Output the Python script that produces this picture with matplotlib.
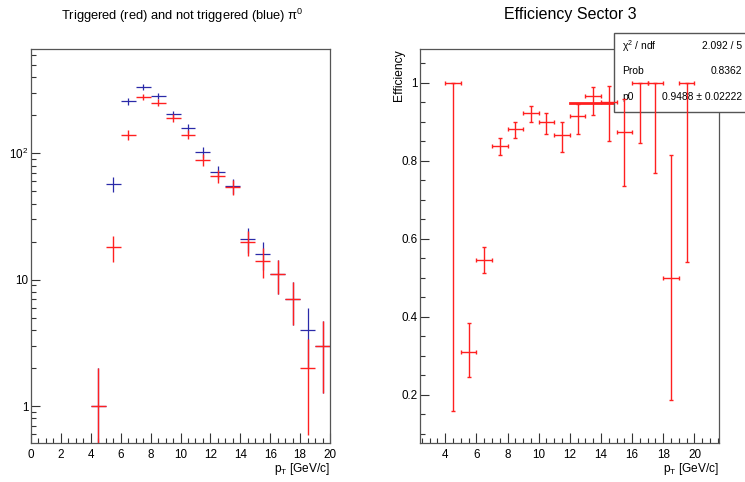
import numpy as np
import matplotlib
matplotlib.use("Agg")
import matplotlib.pyplot as plt
from matplotlib.ticker import MultipleLocator, LogLocator, NullFormatter, FixedLocator, FixedFormatter, FuncFormatter
from matplotlib.patches import Rectangle

plt.rcParams['font.family'] = ['Liberation Sans', 'DejaVu Sans']
plt.rcParams['mathtext.fontset'] = 'custom'
plt.rcParams['mathtext.rm'] = 'Liberation Sans'
plt.rcParams['mathtext.it'] = 'Liberation Sans:italic'
plt.rcParams['mathtext.default'] = 'regular'

# pi0 counts per 1 GeV/c bin (bin centres)
pt_centers = [4.5, 5.5, 6.5, 7.5, 8.5, 9.5, 10.5, 11.5, 12.5, 13.5, 14.5, 15.5, 16.5, 17.5, 18.5, 19.5]
counts_all = [1, 57, 258, 334, 286, 204, 158, 102, 71, 55, 21, 16, 11, 7, 4, 3]
counts_trig = [1, 18, 140, 280, 252, 190, 141, 89, 66, 54, 20, 14, 11, 7, 2, 3]

# efficiency per bin, with asymmetric error limits
eff = [1.0, 0.310, 0.545, 0.837, 0.880, 0.922, 0.898, 0.865, 0.915, 0.965, 0.951, 0.874, 1.0, 1.0, 0.5, 1.0]
eff_up = [1.0, 0.383, 0.579, 0.857, 0.898, 0.940, 0.922, 0.898, 0.946, 0.988, 0.991, 0.957, 1.0, 1.0, 0.813, 1.0]
eff_low = [0.158, 0.245, 0.511, 0.813, 0.857, 0.898, 0.869, 0.821, 0.869, 0.918, 0.850, 0.734, 0.844, 0.768, 0.185, 0.541]

# constant fit
fit_p0 = 0.9488
fit_range = [12, 20]
stat_rows = [("χ$^{2}$ / ndf", "2.092 / 5"), ("Prob", "0.8362"), ("p0", "0.9488 ± 0.02222")]

RED = '#ff2020'
BLUE = '#2a2aa8'
FRAME = '#555555'
W, H = 745, 482

fig = plt.figure(figsize=(W / 100, H / 100), dpi=100)
ax1 = fig.add_axes([31 / W, 1 - 443 / H, 299 / W, 394 / H])
ax2 = fig.add_axes([420.3 / W, 1 - 443 / H, 299 / W, 394 / H])


def root_style(ax):
    for s in ax.spines.values():
        s.set_color(FRAME)
        s.set_linewidth(0.9)
    ax.tick_params(which='both', direction='in', top=False, right=False, colors='#333333',
                   labelcolor='black', labelsize=8.4, width=0.8)
    ax.tick_params(axis='x', which='major', length=7, pad=4.5)
    ax.tick_params(axis='x', which='minor', length=3.5)
    ax.tick_params(axis='y', which='major', length=6.5, pad=2)
    ax.tick_params(axis='y', which='minor', length=3.5)


# ---- left: triggered vs all ----
x = np.array(pt_centers)
for counts, col, lw in [(counts_all, BLUE, 0.9), (counts_trig, RED, 1.0)]:
    n = np.array(counts, dtype=float)
    err = np.sqrt(n)
    lo = np.minimum(err, n * 0.999)
    ax1.errorbar(x, n, xerr=0.5, yerr=[lo, err], fmt='none', ecolor=col, elinewidth=lw, capsize=0)
ax1.set_yscale('log')
ax1.set_xlim(0, 20)
ax1.set_ylim(0.51, 670)
ax1.yaxis.set_major_locator(FixedLocator([1, 10, 100]))
ax1.yaxis.set_major_formatter(FixedFormatter(['1', '10', '10$^{2}$']))
ax1.yaxis.set_minor_locator(LogLocator(base=10, subs=np.arange(2, 10)))
ax1.yaxis.set_minor_formatter(NullFormatter())
ax1.xaxis.set_major_locator(MultipleLocator(2))
ax1.xaxis.set_minor_locator(MultipleLocator(0.5))
root_style(ax1)
fig.text(182 / W, 1 - 16 / H, "Triggered (red) and not triggered (blue) π$^{0}$",
         ha='center', va='center', fontsize=9.3)
fig.text(330 / W, 1 - 469 / H, "p$_{T}$ [GeV/c]", ha='right', va='center', fontsize=8.6)

# ---- right: efficiency ----
e = np.array(eff)
ax2.plot(fit_range, [fit_p0, fit_p0], color=RED, lw=2.0, zorder=2)
ax2.errorbar(x, e, xerr=0.5, yerr=[e - np.array(eff_low), np.array(eff_up) - e], fmt='none',
             ecolor=RED, elinewidth=1.0, capsize=1.6, capthick=1.0, zorder=4)
ax2.set_xlim(2.4, 21.6)
ax2.set_ylim(0.076, 1.086)
ax2.xaxis.set_major_locator(FixedLocator(np.arange(4, 21, 2)))
ax2.xaxis.set_minor_locator(MultipleLocator(0.5))
ax2.yaxis.set_major_locator(MultipleLocator(0.2))
ax2.yaxis.set_minor_locator(MultipleLocator(0.05))
ax2.yaxis.set_major_formatter(FuncFormatter(lambda v, p: f"{v:g}"))
root_style(ax2)
fig.text(570 / W, 1 - 15 / H, "Efficiency Sector 3", ha='center', va='center', fontsize=11.5)
fig.text(398.7 / W, 1 - 49 / H, "Efficiency", rotation=90, ha='center', va='top', fontsize=8.7)
fig.text(719.3 / W, 1 - 469 / H, "p$_{T}$ [GeV/c]", ha='right', va='center', fontsize=8.6)

# stats box, sits over the frame but under the points
box = Rectangle((614 / W, 1 - 112 / H), (W - 614) / W + 0.02, 79 / H, transform=fig.transFigure,
                facecolor='white', edgecolor=FRAME, linewidth=1.0, zorder=3, clip_on=False)
ax2.add_patch(box)
for i, (lab, val) in enumerate(stat_rows):
    yy = 1 - (45.7 + 25.8 * i) / H
    ax2.text(622 / W, yy, lab, transform=fig.transFigure, ha='left', va='center', fontsize=7.4, zorder=3.5)
    ax2.text(742.5 / W, yy, val, transform=fig.transFigure, ha='right', va='center', fontsize=7.4, zorder=3.5)

fig.savefig("out.png", dpi=100)
